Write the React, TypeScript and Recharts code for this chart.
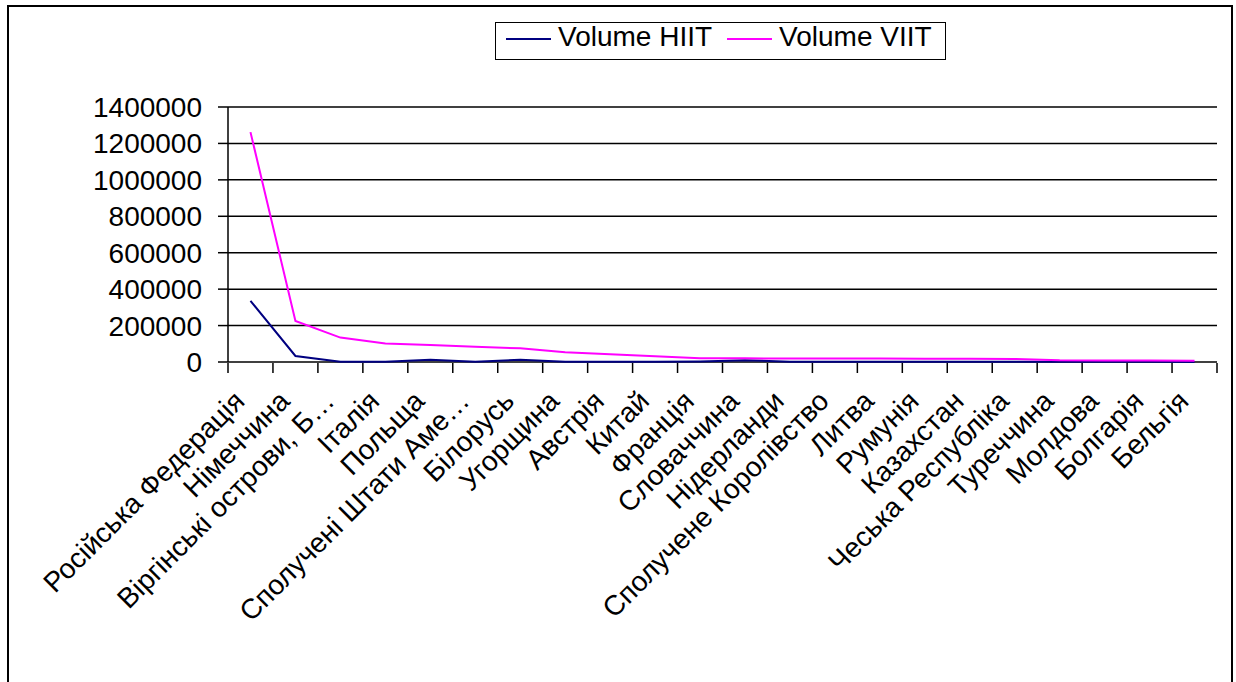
import { LineChart, Line, XAxis, YAxis, CartesianGrid, Legend } from "recharts";

const COUNTRIES = [
  "Російська Федерація",
  "Німеччина",
  "Віргінські острови, Б…",
  "Італія",
  "Польща",
  "Сполучені Штати Аме…",
  "Білорусь",
  "Угорщина",
  "Австрія",
  "Китай",
  "Франція",
  "Словаччина",
  "Нідерланди",
  "Сполучене Королівство",
  "Литва",
  "Румунія",
  "Казахстан",
  "Чеська Республіка",
  "Туреччина",
  "Молдова",
  "Болгарія",
  "Бельгія",
];

const VOLUME_HIIT = [
  336000, 33000, 2000, 1000, 12000, 1000, 12000, 2000, 1000, 1000, 3000,
  10000, 2000, 1000, 1000, 1000, 1000, 1000, 1000, 1000, 1000, 500,
];

const VOLUME_VIIT = [
  1262000, 225000, 134000, 101000, 93000, 84000, 75000, 53000, 42000, 32000,
  21000, 20000, 19000, 19000, 19000, 18000, 18000, 17000, 9000, 8000, 8000,
  7000,
];

const Y_TICKS = [0, 200000, 400000, 600000, 800000, 1000000, 1200000, 1400000];

// tick marks sit on the category boundaries, like Excel
const BOUNDARY_TICKS = Array.from({ length: COUNTRIES.length + 1 }, (_, i) => i);

const SERIES = [
  { key: "hiit", label: "Volume HIIT", color: "#000080" },
  { key: "viit", label: "Volume VIIT", color: "#ff00ff" },
] as const;

// pos = middle of the category slot on the boundary axis
const data = COUNTRIES.map((country, i) => ({
  country,
  pos: i + 0.5,
  hiit: VOLUME_HIIT[i],
  viit: VOLUME_VIIT[i],
}));

const FONT = "'Liberation Sans', Arial, sans-serif";

function CountryTick({ x, y, payload }: { x?: number; y?: number; payload?: { value: string } }) {
  const ax = (x ?? 0) - 11;
  const ay = (y ?? 0) + 34;
  return (
    <text
      x={ax}
      y={ay}
      transform={`rotate(-45, ${ax}, ${ay})`}
      textAnchor="end"
      dominantBaseline="central"
      fontSize={28}
      fontFamily={FONT}
      fill="#000"
    >
      {payload?.value}
    </text>
  );
}

function LegendBox() {
  return (
    <div
      style={{
        boxSizing: "border-box",
        width: 451,
        height: 38,
        border: "1.5px solid #000",
        background: "#fff",
        display: "flex",
        alignItems: "center",
        paddingLeft: 10,
        paddingBottom: 8,
        fontFamily: FONT,
        fontSize: 28,
        lineHeight: "28px",
        color: "#000",
      }}
    >
      {SERIES.map((s, i) => (
        <div
          key={s.key}
          style={{ display: "flex", alignItems: "center", marginLeft: i ? 15 : 0 }}
        >
          <span
            style={{
              display: "inline-block",
              width: 45,
              height: 2,
              background: s.color,
              marginRight: 7,
              position: "relative",
              top: 2,
            }}
          />
          <span>{s.label}</span>
        </div>
      ))}
    </div>
  );
}

export default function App() {
  return (
    <div
      style={{
        position: "absolute",
        left: 0,
        top: 0,
        width: 1236,
        height: 682,
        overflow: "hidden",
        background: "#fff",
      }}
    >
      <div
        style={{
          position: "absolute",
          left: 7,
          top: 5,
          width: 1226,
          height: 700,
          border: "2px solid #000",
          boxSizing: "border-box",
        }}
      />
      <div style={{ position: "absolute", left: 0, top: 0 }}>
        <LineChart
          width={1236}
          height={682}
          data={data}
          margin={{ top: 107, right: 19, bottom: 20, left: 0 }}
        >
          <CartesianGrid vertical={false} stroke="#000" strokeWidth={1.5} />
          <XAxis
            xAxisId="bounds"
            dataKey="pos"
            type="number"
            domain={[0, COUNTRIES.length]}
            allowDataOverflow
            ticks={BOUNDARY_TICKS}
            interval={0}
            height={299}
            tick={() => <g />}
            tickSize={10}
            axisLine={false}
            tickLine={{ stroke: "#000", strokeWidth: 1.5 }}
          />
          <XAxis
            dataKey="country"
            scale="point"
            padding={{ left: 22.5, right: 22.5 }}
            height={1}
            tickSize={0}
            tickMargin={0}
            interval={0}
            tick={<CountryTick />}
            tickLine={false}
            axisLine={false}
          />
          <YAxis
            domain={[0, 1400000]}
            ticks={Y_TICKS}
            interval={0}
            width={228}
            tickSize={10}
            tickMargin={16}
            tick={{ fontSize: 28, fill: "#000", fontFamily: FONT }}
            axisLine={{ stroke: "#000", strokeWidth: 1.5 }}
            tickLine={{ stroke: "#000", strokeWidth: 1.5 }}
          />
          <Legend
            layout="horizontal"
            verticalAlign="middle"
            align="center"
            wrapperStyle={{ left: 495, top: 22, width: 451, height: 38 }}
            content={() => <LegendBox />}
          />
          {SERIES.map((s) => (
            <Line
              key={s.key}
              xAxisId="bounds"
              type="linear"
              dataKey={s.key}
              name={s.label}
              stroke={s.color}
              strokeWidth={2}
              dot={false}
              isAnimationActive={false}
            />
          ))}
        </LineChart>
      </div>
    </div>
  );
}
